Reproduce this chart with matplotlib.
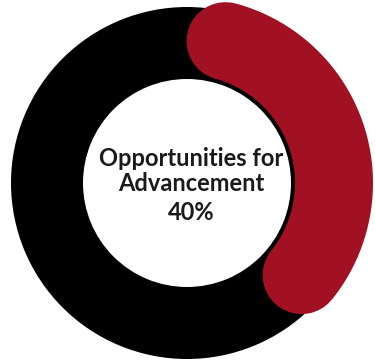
import numpy as np
import matplotlib
matplotlib.use('Agg')
import matplotlib.pyplot as plt
from matplotlib.patches import Wedge

# progress ring data
label = 'Opportunities for\nAdvancement'
value = 40          # percent
total = 100

ring_color = '#000000'
value_color = '#A11023'

W, H = 375, 361
fig = plt.figure(figsize=(W / 100, H / 100), dpi=100)
ax = fig.add_axes([0, 0, 1, 1])
ax.set_xlim(0, W)
ax.set_ylim(H, 0)
ax.axis('off')

cx, cy = 187, 183

# background ring
ax.add_patch(Wedge((cx, cy), 176, 0, 360, width=72, facecolor=ring_color, edgecolor='none'))

# value arc, clockwise from 12 o'clock with round caps kept inside the sweep
r_mid = 147
lw_px = 78
sweep = value / total * 360
cap = np.degrees((lw_px / 2) / r_mid)
theta = np.radians(np.linspace(cap, sweep - cap, 200))
ax.plot(cx + r_mid * np.sin(theta), cy - r_mid * np.cos(theta),
        color=value_color, lw=lw_px * 0.72, solid_capstyle='round')

ax.text(191, 171, label, ha='center', va='center', fontsize=17,
        family='Lato', weight='bold', color='#1a1a1a', linespacing=1.15)
ax.text(191, 213, f'{value}%', ha='center', va='center', fontsize=17,
        family='Lato', weight='bold', color='#1a1a1a')

fig.savefig('out.png', dpi=100)
